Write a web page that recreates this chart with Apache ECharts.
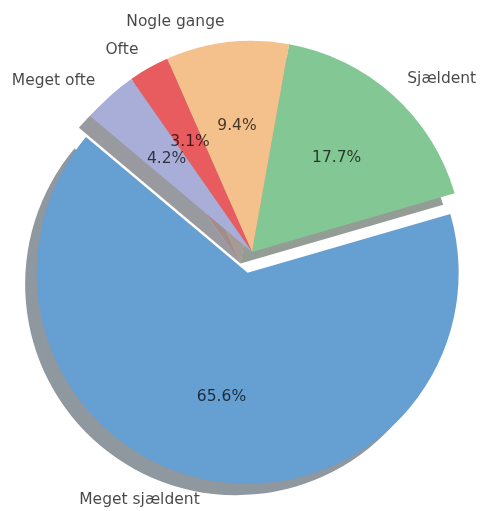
<!DOCTYPE html>
<html>
<head>
<meta charset="utf-8">
<script src="https://cdn.jsdelivr.net/npm/echarts@6/dist/echarts.min.js"></script>
<style>
html,body{margin:0;padding:0;background:#fff;}
#chart{width:481px;height:511px;}
</style>
</head>
<body>
<div id="chart"></div>
<script>
// Data
const categories = ['Meget sjældent', 'Sjældent', 'Nogle gange', 'Ofte', 'Meget ofte'];
const values = [65.6, 17.7, 9.4, 3.1, 4.2];
const exploded = [true, false, false, false, false];

// Styles
const colors = ['#669fd2', '#83c894', '#f4c08b', '#e85b5e', '#a9aed8'];
const R = 211;
const CX = 252, CY = 252;
const SH = 11.5;
const EXPLODE = 0.1 * R;
const textColor = 'rgba(0,0,0,0.72)';
const font = 'DejaVu Sans';

function shade(hex) {
  const n = parseInt(hex.slice(1), 16);
  const r = Math.round(((n >> 16) & 255) * 0.3);
  const g = Math.round(((n >> 8) & 255) * 0.3);
  const b = Math.round((n & 255) * 0.3);
  return 'rgb(' + r + ',' + g + ',' + b + ')';
}

function makeData(colorFn, opacity) {
  return categories.map((c, i) => ({
    name: c,
    value: values[i],
    selected: exploded[i],
    itemStyle: { color: colorFn(i), opacity: opacity }
  }));
}

const common = {
  type: 'pie',
  startAngle: 140,
  clockwise: false,
  selectedMode: 'multiple',
  selectedOffset: EXPLODE,
  avoidLabelOverlap: false,
  animation: false,
  silent: true,
  emphasis: { disabled: true },
  select: { disabled: false, itemStyle: {} },
  labelLine: { show: false }
};

const option = {
  backgroundColor: '#ffffff',
  animation: false,
  series: [
    Object.assign({}, common, {
      name: 'shadow',
      center: [CX - SH, CY + SH],
      radius: [0, R],
      label: { show: false },
      data: makeData(i => shade(colors[i]), 0.5)
    }),
    Object.assign({}, common, {
      name: 'main',
      center: [CX, CY],
      radius: [0, R],
      label: {
        show: true,
        position: 'outside',
        alignTo: 'none',
        distanceToLabelLine: 0,
        fontFamily: font,
        fontSize: 15.5,
        color: textColor,
        formatter: p => p.name
      },
      labelLine: { show: false, length: 0.1 * R, length2: 0 },
      data: makeData(i => colors[i], 1)
    }),
    Object.assign({}, common, {
      name: 'pct',
      center: [CX, CY],
      radius: [2 * 0.6 * R - 6 - R, R],
      label: {
        show: true,
        position: 'inside',
        fontFamily: font,
        fontSize: 15.5,
        color: textColor,
        formatter: p => p.value.toFixed(1) + '%'
      },
      data: makeData(i => 'rgba(0,0,0,0)', 1)
    })
  ]
};

const chart = echarts.init(document.getElementById('chart'), null, { renderer: 'canvas' });
chart.setOption(option);
</script>
</body>
</html>
